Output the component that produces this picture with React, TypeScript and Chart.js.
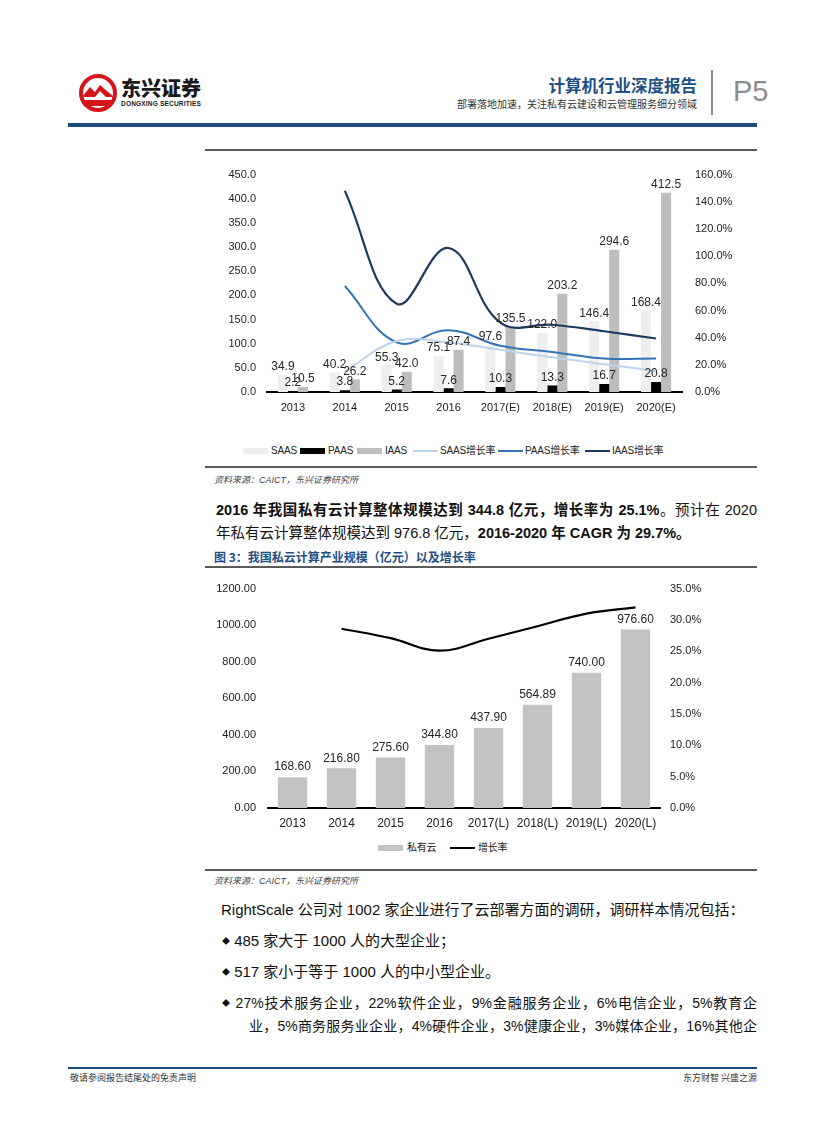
import React, { useEffect, useRef } from "react";
import { Chart, registerables } from "chart.js";
Chart.register(...registerables);

// ---------- Chart 1 data ----------
const years1 = ["2013", "2014", "2015", "2016", "2017(E)", "2018(E)", "2019(E)", "2020(E)"];
const saas = [34.9, 40.2, 55.3, 75.1, 97.6, 122.0, 146.4, 168.4];
const paas = [2.2, 3.8, 5.2, 7.6, 10.3, 13.3, 16.7, 20.8];
const iaas = [10.5, 26.2, 42.0, 87.4, 135.5, 203.2, 294.6, 412.5];
const saasGrowth = [null, 15.2, 37.5, 36.5, 31.0, 25.5, 20.5, 15.5];
const paasGrowth = [null, 78.0, 36.5, 45.5, 34.0, 29.5, 24.7, 24.7];
const iaasGrowth = [null, 148.0, 65.0, 106.0, 51.0, 49.5, 44.7, 39.4];
const legend1Labels = ["SAAS", "PAAS", "IAAS", "SAAS增长率", "PAAS增长率", "IAAS增长率"];

// ---------- Chart 2 data ----------
const years2 = ["2013", "2014", "2015", "2016", "2017(L)", "2018(L)", "2019(L)", "2020(L)"];
const privateCloud = [168.6, 216.8, 275.6, 344.8, 437.9, 564.89, 740.0, 976.6];
const privateGrowth = [null, 28.6, 27.1, 25.1, 27.0, 29.0, 31.0, 32.0];
const legend2Labels = ["私有云", "增长率"];

const LATIN = '"Liberation Sans", Arial, "Noto Sans CJK SC", sans-serif';
const CJK = '"Liberation Sans", "Noto Sans CJK SC", sans-serif';

function barLabelPlugin(digits: number, fontSize: number, gap: number) {
  return {
    id: "barLabels" + digits,
    afterDatasetsDraw(chart: any) {
      const ctx = chart.ctx;
      ctx.save();
      ctx.font = `${fontSize}px ${LATIN}`;
      ctx.fillStyle = "#262626";
      ctx.textAlign = "center";
      ctx.textBaseline = "bottom";
      chart.data.datasets.forEach((ds: any, i: number) => {
        if (ds.type !== "bar") return;
        const meta = chart.getDatasetMeta(i);
        meta.data.forEach((el: any, j: number) => {
          const v = ds.data[j];
          if (v == null) return;
          ctx.fillText(Number(v).toFixed(digits), el.x, el.y - gap);
        });
      });
      ctx.restore();
    },
  };
}

function Chart1() {
  const ref = useRef<HTMLCanvasElement>(null);
  useEffect(() => {
    const tickFont = { family: LATIN, size: 11 };
    const chart = new Chart(ref.current!, {
      type: "bar",
      data: {
        labels: years1,
        datasets: [
          { type: "line", label: legend1Labels[3], data: saasGrowth, yAxisID: "y1", borderColor: "#bcd4ec", borderWidth: 2, pointRadius: 0, tension: 0.4, order: 1 },
          { type: "line", label: legend1Labels[4], data: paasGrowth, yAxisID: "y1", borderColor: "#3573b5", borderWidth: 2, pointRadius: 0, tension: 0.4, order: 1 },
          { type: "line", label: legend1Labels[5], data: iaasGrowth, yAxisID: "y1", borderColor: "#1d3a5e", borderWidth: 2.2, pointRadius: 0, tension: 0.4, order: 1 },
          { type: "bar", label: legend1Labels[0], data: saas, yAxisID: "y", backgroundColor: "#eeeeee", order: 2, categoryPercentage: 0.58, barPercentage: 1 },
          { type: "bar", label: legend1Labels[1], data: paas, yAxisID: "y", backgroundColor: "#000000", order: 2, categoryPercentage: 0.58, barPercentage: 1 },
          { type: "bar", label: legend1Labels[2], data: iaas, yAxisID: "y", backgroundColor: "#bdbdbd", order: 2, categoryPercentage: 0.58, barPercentage: 1 },
        ],
      } as any,
      options: {
        responsive: false,
        animation: false,
        layout: { padding: { top: 15, left: 0, right: 0, bottom: 0 } },
        plugins: { legend: { display: false }, tooltip: { enabled: false } },
        scales: {
          x: {
            grid: { display: false, drawTicks: false },
            border: { display: true, color: "#000", width: 2 },
            ticks: { font: tickFont, color: "#222", padding: 9, maxRotation: 0, autoSkip: false },
            afterFit: (s: any) => { s.height = 33; },
          },
          y: {
            position: "left",
            min: 0, max: 450,
            grid: { display: false, drawTicks: false },
            border: { display: false },
            ticks: { stepSize: 50, font: tickFont, color: "#222", padding: 11, callback: (v: any) => Number(v).toFixed(1) },
            afterFit: (s: any) => { s.width = 62; },
          },
          y1: {
            position: "right",
            min: 0, max: 160,
            grid: { display: false, drawTicks: false },
            border: { display: false },
            ticks: { stepSize: 20, font: tickFont, color: "#222", padding: 13, callback: (v: any) => Number(v).toFixed(1) + "%" },
            afterFit: (s: any) => { s.width = 75; },
          },
        },
      } as any,
      plugins: [barLabelPlugin(1, 12, 2)],
    });
    return () => chart.destroy();
  }, []);
  return <canvas ref={ref} width={552} height={270} style={{ position: "absolute", left: 205, top: 155, width: 552, height: 270 }} />;
}

function Chart2() {
  const ref = useRef<HTMLCanvasElement>(null);
  useEffect(() => {
    const tickFont = { family: LATIN, size: 11 };
    const chart = new Chart(ref.current!, {
      type: "bar",
      data: {
        labels: years2,
        datasets: [
          { type: "line", label: legend2Labels[1], data: privateGrowth, yAxisID: "y1", borderColor: "#000", borderWidth: 2.2, pointRadius: 0, tension: 0.4, order: 1 },
          { type: "bar", label: legend2Labels[0], data: privateCloud, yAxisID: "y", backgroundColor: "#c3c3c3", order: 2, categoryPercentage: 0.6, barPercentage: 1 },
        ],
      } as any,
      options: {
        responsive: false,
        animation: false,
        layout: { padding: { top: 13, left: 0, right: 0, bottom: 0 } },
        plugins: { legend: { display: false }, tooltip: { enabled: false } },
        scales: {
          x: {
            grid: { display: false, drawTicks: false },
            border: { display: true, color: "#000", width: 2 },
            ticks: { font: { family: LATIN, size: 12 }, color: "#222", padding: 8, maxRotation: 0, autoSkip: false },
            afterFit: (s: any) => { s.height = 27; },
          },
          y: {
            position: "left",
            min: 0, max: 1200,
            grid: { display: false, drawTicks: false },
            border: { display: false },
            ticks: { stepSize: 200, font: tickFont, color: "#222", padding: 12, callback: (v: any) => Number(v).toFixed(2) },
            afterFit: (s: any) => { s.width = 63; },
          },
          y1: {
            position: "right",
            min: 0, max: 35,
            grid: { display: false, drawTicks: false },
            border: { display: false },
            ticks: { stepSize: 5, font: tickFont, color: "#222", padding: 10, callback: (v: any) => Number(v).toFixed(1) + "%" },
            afterFit: (s: any) => { s.width = 97; },
          },
        },
      } as any,
      plugins: [barLabelPlugin(2, 12, 4)],
    });
    return () => chart.destroy();
  }, []);
  return <canvas ref={ref} width={552} height={265} style={{ position: "absolute", left: 205, top: 570, width: 552, height: 265 }} />;
}

const abs = (l: number, t: number, extra: any = {}) => ({ position: "absolute" as const, left: l, top: t, ...extra });

function Swatch({ x, y, color, line }: { x: number; y: number; color: string; line?: boolean }) {
  return <div style={abs(x, line ? y - 1 : y - 3, { width: 25, height: line ? 2 : 6, background: color })} />;
}

function LegendText({ x, y, text }: { x: number; y: number; text: string }) {
  return <div style={abs(x, y - 7, { fontFamily: CJK, fontSize: 10, lineHeight: "14px", color: "#222", whiteSpace: "nowrap", letterSpacing: -0.2 })}>{text}</div>;
}

function Logo() {
  return (
    <svg style={abs(78, 73)} width={40} height={40} viewBox="0 0 40 40">
      <circle cx="20" cy="20" r="17" fill="#fff" stroke="#d4161c" strokeWidth="4" />
      <path d="M4 24 L12 14 L17 19 L22 12 L36 24 L28 24 L22 18 L17 24 Z" fill="#d4161c" />
      <path d="M6 27 L34 27 L30 33 L10 33 Z" fill="#d4161c" />
    </svg>
  );
}

export default function App() {
  const bodyText = { fontFamily: CJK, color: "#111", whiteSpace: "nowrap" as const };
  return (
    <div style={{ position: "absolute", left: 0, top: 0, width: 827, height: 1122, background: "#fff", overflow: "hidden" }}>
      {/* Header */}
      <Logo />
      <div style={abs(121, 76, { fontFamily: '"Noto Sans CJK SC", sans-serif', fontWeight: 900, fontSize: 20, lineHeight: "24px", color: "#1a1a1a", letterSpacing: 0 })}>东兴证券</div>
      <div style={abs(121, 100, { fontFamily: LATIN, fontWeight: 700, fontSize: 6.5, lineHeight: "8px", color: "#1a1a1a", letterSpacing: 0.2 })}>DONGXING SECURITIES</div>
      <div style={abs(420, 74, { width: 277, textAlign: "right", fontFamily: '"Noto Sans CJK SC", sans-serif', fontWeight: 700, fontSize: 16.5, lineHeight: "22px", color: "#1d4f86" })}>计算机行业深度报告</div>
      <div style={abs(420, 97, { width: 277, textAlign: "right", fontFamily: '"Noto Sans CJK SC", sans-serif', fontSize: 10, lineHeight: "14px", color: "#333" })}>部署落地加速，关注私有云建设和云管理服务细分领域</div>
      <div style={abs(711, 70, { width: 2, height: 45, background: "#8a8a8a" })} />
      <div style={abs(733, 74, { fontFamily: LATIN, fontSize: 29, lineHeight: "34px", color: "#8c8c8c" })}>P5</div>
      <div style={abs(68, 123, { width: 689, height: 4, background: "#1c4a7a" })} />

      {/* Figure 2 */}
      <div style={abs(205, 149, { width: 552, height: 2, background: "#5a5a5a" })} />
      <Chart1 />
      <Swatch x={243} y={451} color="#eeeeee" />
      <LegendText x={271} y={451} text={legend1Labels[0]} />
      <Swatch x={300} y={451} color="#000000" />
      <LegendText x={328} y={451} text={legend1Labels[1]} />
      <Swatch x={357} y={451} color="#bdbdbd" />
      <LegendText x={385} y={451} text={legend1Labels[2]} />
      <Swatch x={413} y={451} color="#bcd4ec" line />
      <LegendText x={440} y={451} text={legend1Labels[3]} />
      <Swatch x={498} y={451} color="#3573b5" line />
      <LegendText x={525} y={451} text={legend1Labels[4]} />
      <Swatch x={585} y={451} color="#1d3a5e" line />
      <LegendText x={612} y={451} text={legend1Labels[5]} />
      <div style={abs(205, 466, { width: 552, height: 2, background: "#5a5a5a" })} />
      <div style={abs(214, 474, { fontFamily: CJK, fontStyle: "italic", fontSize: 9, lineHeight: "12px", color: "#444" })}>资料来源：CAICT，东兴证券研究所</div>

      {/* Paragraph */}
      <div style={abs(216, 500, { ...bodyText, width: 541, fontSize: 14.5, lineHeight: "20px", textAlign: "justify", textAlignLast: "justify" })}>
        <b>2016 年我国私有云计算整体规模达到 344.8 亿元，增长率为 25.1%</b>。预计在 2020
      </div>
      <div style={abs(216, 523, { ...bodyText, fontSize: 14.5, lineHeight: "20px" })}>
        年私有云计算整体规模达到 976.8 亿元，<b>2016-2020 年 CAGR 为 29.7%。</b>
      </div>

      {/* Figure 3 */}
      <div style={abs(214, 549, { fontFamily: '"Noto Sans CJK SC", sans-serif', fontWeight: 700, fontSize: 12, lineHeight: "16px", color: "#1d4f86", whiteSpace: "nowrap" })}>图 3：我国私云计算产业规模（亿元）以及增长率</div>
      <div style={abs(205, 566, { width: 552, height: 2, background: "#5a5a5a" })} />
      <Chart2 />
      <Swatch x={378} y={848} color="#c3c3c3" />
      <LegendText x={407} y={848} text={legend2Labels[0]} />
      <Swatch x={450} y={848} color="#000000" line />
      <LegendText x={478} y={848} text={legend2Labels[1]} />
      <div style={abs(205, 869, { width: 552, height: 2, background: "#5a5a5a" })} />
      <div style={abs(214, 875, { fontFamily: CJK, fontStyle: "italic", fontSize: 9, lineHeight: "12px", color: "#444" })}>资料来源：CAICT，东兴证券研究所</div>

      {/* Body */}
      <div style={abs(221, 899, { ...bodyText, fontSize: 15, lineHeight: "22px" })}>RightScale 公司对 1002 家企业进行了云部署方面的调研，调研样本情况包括：</div>
      <div style={abs(222, 930, { ...bodyText, fontSize: 15, lineHeight: "22px" })}><span style={{ fontSize: 8, verticalAlign: "middle" }}>◆</span> 485 家大于 1000 人的大型企业；</div>
      <div style={abs(222, 961, { ...bodyText, fontSize: 15, lineHeight: "22px" })}><span style={{ fontSize: 8, verticalAlign: "middle" }}>◆</span> 517 家小于等于 1000 人的中小型企业。</div>
      <div style={abs(222, 992, { ...bodyText, width: 535, fontSize: 14, lineHeight: "22px", textAlign: "justify", textAlignLast: "justify" })}><span style={{ fontSize: 8, verticalAlign: "middle" }}>◆</span> 27%技术服务企业，22%软件企业，9%金融服务企业，6%电信企业，5%教育企</div>
      <div style={abs(249, 1015, { ...bodyText, width: 508, fontSize: 14, lineHeight: "22px", textAlign: "justify", textAlignLast: "justify" })}>业，5%商务服务业企业，4%硬件企业，3%健康企业，3%媒体企业，16%其他企</div>

      {/* Footer */}
      <div style={abs(68, 1067, { width: 689, height: 2, background: "#1c4a7a" })} />
      <div style={abs(70, 1072, { fontFamily: '"Noto Sans CJK SC", sans-serif', fontSize: 9, lineHeight: "12px", color: "#333" })}>敬请参阅报告结尾处的免责声明</div>
      <div style={abs(557, 1072, { width: 200, textAlign: "right", fontFamily: '"Noto Sans CJK SC", sans-serif', fontSize: 9, lineHeight: "12px", color: "#333" })}>东方财智 兴盛之源</div>
    </div>
  );
}
